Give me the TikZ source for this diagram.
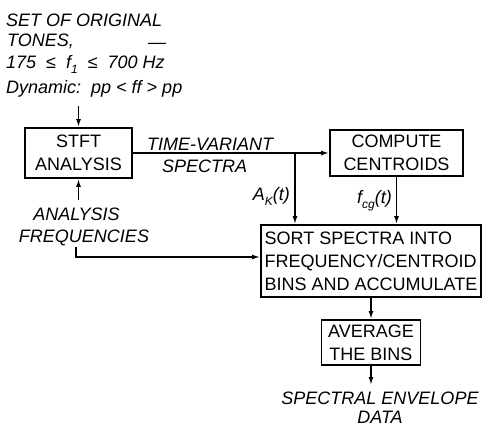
\documentclass[tikz,border=0pt]{standalone}
\usepackage{fontspec}
\setmainfont{Liberation Sans}
\usetikzlibrary{arrows.meta, positioning}

\newcommand{\lowsub}[1]{\raisebox{-5pt}{\fontsize{12}{12}\selectfont #1}}

\begin{document}
\begin{tikzpicture}[x=1pt, y=-1pt,
        blk/.style={rectangle, draw, line width=1.8pt, align=center, inner sep=0pt, font=\fontsize{18}{23}\selectfont},
        lbl/.style={inner sep=0pt, font=\fontsize{18}{22}\selectfont\itshape},
        arrowline/.style={-{Latex[length=8pt,width=5pt]}, line width=1.6pt}
    ]
        \useasboundingbox (0,0) rectangle (482,431);
        % input tones
        \node[lbl, anchor=base west] (orig1) at (6,26) {SET OF ORIGINAL};
        \node[lbl, anchor=base west] (orig2) at (7,46) {TONES,};
        \node[lbl, anchor=base west] (dash) at (148,48) {---};
        \node[lbl, anchor=base west] (orig3) at (6,68) {175~~≤~~f\lowsub{1}~~≤~~700 Hz};
        \node[lbl, anchor=base west] (dyn) at (6,93) {Dynamic:~~pp < ff > pp};
        \coordinate (dynout) at (78.5,106);
        % processing blocks
        \node[blk, minimum width=107pt, minimum height=50pt] (stft) at (78.5,153) {STFT\\ANALYSIS};
        \node[blk, minimum width=133pt, minimum height=46pt] (comp) at (396.5,153) {COMPUTE\\CENTROIDS};
        \node[blk, align=left, minimum width=220pt, minimum height=72pt] (sort) at (371,261) {SORT SPECTRA INTO\\FREQUENCY/CENTROID\\BINS AND ACCUMULATE};
        \node[blk, minimum width=99pt, minimum height=45pt] (avg) at (371,342.5) {AVERAGE\\THE BINS};
        % labels
        \node[lbl, anchor=base west] (tv1) at (147,150) {TIME-VARIANT};
        \node[lbl, anchor=base west] (tv2) at (162,172) {SPECTRA};
        \node[lbl, anchor=base] (af1) at (76.5,220) {ANALYSIS};
        \node[lbl, anchor=base] (af2) at (84,242) {FREQUENCIES};
        \node[lbl, anchor=base east] (ak) at (290,200) {A\lowsub{K}(t)};
        \node[lbl, anchor=base east] (fcg) at (392,203) {f\lowsub{cg}(t)};
        \node[lbl, align=center, anchor=south, font=\fontsize{18}{19}\selectfont\itshape] (out) at (380,424) {SPECTRAL ENVELOPE\\DATA};
        \coordinate (tap) at (295,153);
        \coordinate (freqtop) at (78.5,200);
        \coordinate (freqbot) at (76,247);
        \coordinate (outin) at (371,385);
        % connectors
        \draw[arrowline] (dynout) -- (stft.north);
        \draw[arrowline] (stft.east) -- (comp.west);
        \draw[arrowline] (tap) -- (tap |- sort.north);
        \draw[arrowline] (comp.south) -- (comp.south |- sort.north);
        \draw[arrowline] (freqtop) -- (stft.south);
        \draw[arrowline] (freqbot) |- ([yshift=4pt]sort.west);
        \draw[arrowline] (sort.south) -- (avg.north);
        \draw[arrowline] (avg.south) -- (outin);
    \end{tikzpicture}
\end{document}
